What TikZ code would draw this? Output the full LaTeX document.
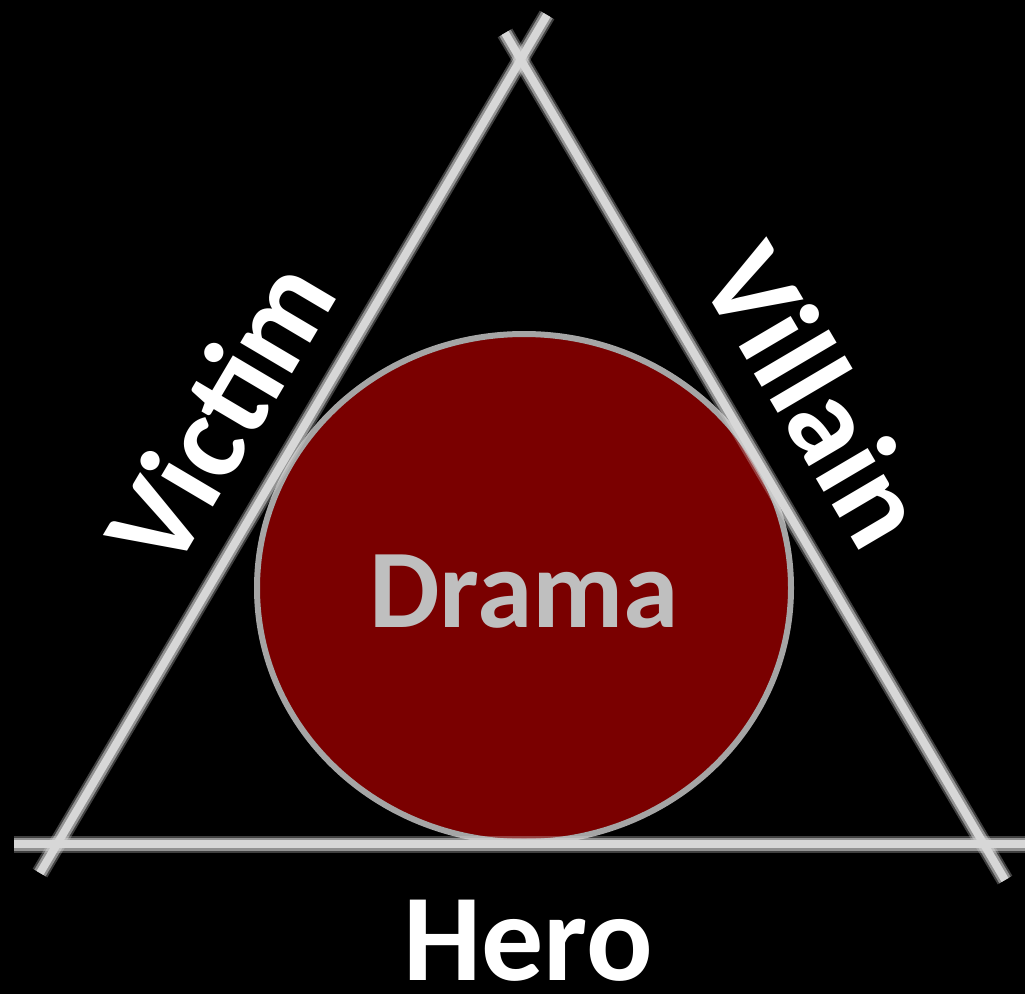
\documentclass[tikz,border=0pt]{standalone}
\definecolor{dramared}{RGB}{122, 0, 0}
\definecolor{rimgray}{RGB}{165, 165, 165}
\definecolor{dramagray}{RGB}{191, 191, 191}
\definecolor{chalkgray}{RGB}{215, 215, 215}
\usepackage{fontspec}
\setmainfont{Carlito}
\usepackage{tikz}
\usetikzlibrary{calc, shapes.geometric}
\tikzset{
  chalkhaze/.style={line width=17pt, draw=chalkgray, opacity=0.3},
  chalk/.style={line width=13pt, draw=chalkgray, opacity=0.55},
  chalkcore/.style={line width=8pt, draw=chalkgray},
  rolelabel/.style={text=white, inner sep=0pt, font=\bfseries\fontsize{124}{124}\selectfont}
}

\begin{document}
\begin{tikzpicture}[x=1pt, y=-1pt]
  \fill[black] (0,0) rectangle (1025,994);
  \useasboundingbox (0,0) rectangle (1025,994);

  % chalk triangle, ends run past the corners
  \coordinate (victimlow) at (40,873);
  \coordinate (victimtop) at (547,15);
  \coordinate (villaintop) at (505,33);
  \coordinate (villainlow) at (1005,880);
  \coordinate (heroleft) at (14,844);
  \coordinate (heroright) at (1025,844);

  \node[draw=rimgray, line width=6pt, fill=dramared, ellipse, minimum width=534pt, minimum height=508pt, inner sep=0pt] (drama) at (524,588) {};
  \node[text=dramagray, font=\bfseries\fontsize{112}{112}\selectfont, inner sep=0pt] (dramatext) at (524,592) {Drama};

  \foreach \a/\b in {victimlow/victimtop, villaintop/villainlow, heroleft/heroright} {
    \draw[chalkhaze] (\a) -- (\b);
    \draw[chalk] (\a) -- (\b);
    \draw[chalkcore] (\a) -- (\b);
  }

  \node[rolelabel, rotate=59.4] (victim) at (219,413) {Victim};
  \node[rolelabel, rotate=-59.5] (villain) at (817,395) {Villain};
  \node[rolelabel, anchor=base] (hero) at (528,980) {Hero};
\end{tikzpicture}
\end{document}
